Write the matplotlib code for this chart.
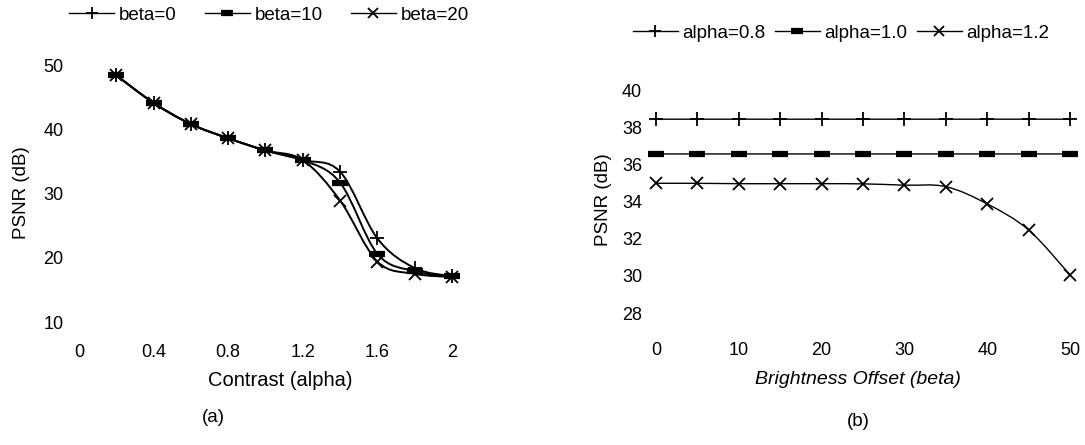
import matplotlib
matplotlib.use("Agg")
import matplotlib.pyplot as plt
from matplotlib.path import Path
from matplotlib.patches import PathPatch
from matplotlib.lines import Line2D

plt.rcParams['font.family'] = ['Liberation Sans', 'DejaVu Sans']

# panel (a): PSNR vs contrast
alpha = [0.2, 0.4, 0.6, 0.8, 1.0, 1.2, 1.4, 1.6, 1.8, 2.0]
psnr_beta0 = [48.4, 44.1, 40.8, 38.6, 36.7, 35.2, 33.4, 23.0, 18.4, 17.1]
psnr_beta10 = [48.4, 44.1, 40.8, 38.6, 36.7, 35.2, 31.7, 20.6, 17.9, 17.1]
psnr_beta20 = [48.4, 44.1, 40.8, 38.6, 36.7, 35.2, 28.9, 19.4, 17.5, 17.0]

# panel (b): PSNR vs brightness offset
beta = [0, 5, 10, 15, 20, 25, 30, 35, 40, 45, 50]
psnr_a08 = [38.43] * 11
psnr_a10 = [36.56] * 11
psnr_a12 = [34.98, 34.98, 34.96, 34.96, 34.96, 34.95, 34.88, 34.8, 33.87, 32.47, 30.05]

markers = [dict(marker='+', ms=10, mew=1.3),
           dict(marker='_', ms=11, mew=4.5),
           dict(marker='x', ms=9, mew=1.3)]


def smooth(ax, x, y, lw):
    # Catmull-Rom style curve through the points, like a spreadsheet "smooth line"
    n = len(x)
    verts = [(x[0], y[0])]
    codes = [Path.MOVETO]
    for i in range(n - 1):
        p0 = max(i - 1, 0)
        p3 = min(i + 2, n - 1)
        c1 = (x[i] + (x[i + 1] - x[p0]) / 6, y[i] + (y[i + 1] - y[p0]) / 6)
        c2 = (x[i + 1] - (x[p3] - x[i]) / 6, y[i + 1] - (y[p3] - y[i]) / 6)
        verts += [c1, c2, (x[i + 1], y[i + 1])]
        codes += [Path.CURVE4] * 3
    ax.add_patch(PathPatch(Path(verts, codes), fill=False, edgecolor='black', lw=lw, clip_on=False))


fig = plt.figure(figsize=(10.85, 4.45), dpi=100)

ax1 = fig.add_axes([0.0728, 0.2764, 0.3438, 0.5775])
for ys, mk in zip([psnr_beta0, psnr_beta10, psnr_beta20], markers):
    smooth(ax1, alpha, ys, 1.4)
    ax1.plot(alpha, ys, ls='none', color='black', clip_on=False, **mk)
ax1.set_xlim(0, 2)
ax1.set_ylim(10, 50)
ax1.set_xticks([0, 0.4, 0.8, 1.2, 1.6, 2])
ax1.set_xticklabels(['0', '0.4', '0.8', '1.2', '1.6', '2'])
ax1.set_yticks([10, 20, 30, 40, 50])
ax1.tick_params(axis='x', length=0, pad=16, labelsize=13)
ax1.tick_params(axis='y', length=0, pad=11, labelsize=13)

ax2 = fig.add_axes([0.6046, 0.2966, 0.3816, 0.5011])
for ys, mk in zip([psnr_a08, psnr_a10, psnr_a12], markers):
    smooth(ax2, beta, ys, 1.0)
    ax2.plot(beta, ys, ls='none', color='black', clip_on=False, **mk)
ax2.set_xlim(0, 50)
ax2.set_ylim(28, 40)
ax2.set_xticks([0, 10, 20, 30, 40, 50])
ax2.set_yticks([28, 30, 32, 34, 36, 38, 40])
ax2.tick_params(axis='x', length=0, pad=21, labelsize=13)
ax2.tick_params(axis='y', length=0, pad=10, labelsize=13)

for ax in (ax1, ax2):
    for s in ax.spines.values():
        s.set_visible(False)

# axis titles and captions
fig.text(280 / 1085, 1 - 380 / 445, 'Contrast (alpha)', ha='center', va='center', fontsize=14.5)
fig.text(22 / 1085, 1 - 193 / 445, 'PSNR (dB)', ha='center', va='center', rotation=90, fontsize=13.5)
fig.text(858 / 1085, 1 - 380 / 445, 'Brightness Offset (beta)', ha='center', va='center',
         fontsize=14, style='italic')
fig.text(603 / 1085, 1 - 200 / 445, 'PSNR (dB)', ha='center', va='center', rotation=90, fontsize=13.5)
fig.text(213 / 1085, 1 - 418 / 445, '(a)', ha='center', va='center', fontsize=13.5)
fig.text(858 / 1085, 1 - 422 / 445, '(b)', ha='center', va='center', fontsize=13.5)

# legends
def handles(labels):
    out = []
    for lb, mk in zip(labels, markers):
        m = dict(mk)
        m['ms'] = m['ms'] * 0.8
        out.append(Line2D([], [], color='black', lw=1.0, label=lb, **m))
    return out

fig.legend(handles=handles(['beta=0', 'beta=10', 'beta=20']), loc='center',
           bbox_to_anchor=(269 / 1085, 1 - 15 / 445), ncol=3, frameon=False, fontsize=13.5,
           handlelength=2.4, handletextpad=0.25, columnspacing=1.5, borderpad=0)
fig.legend(handles=handles(['alpha=0.8', 'alpha=1.0', 'alpha=1.2']), loc='center',
           bbox_to_anchor=(841 / 1085, 1 - 33 / 445), ncol=3, frameon=False, fontsize=13.5,
           handlelength=2.4, handletextpad=0.25, columnspacing=0.5, borderpad=0)

fig.savefig('out.png', dpi=100)
